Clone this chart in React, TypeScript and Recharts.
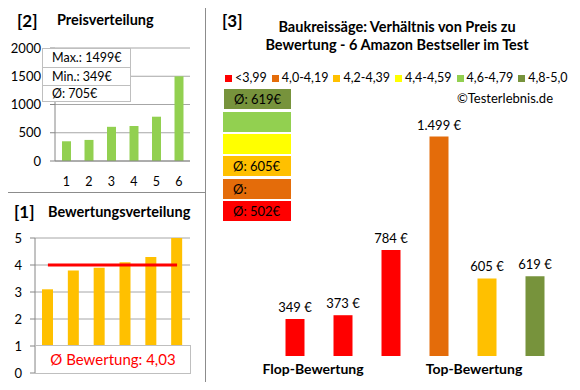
import React from 'react';
import { BarChart, Bar, XAxis, YAxis, CartesianGrid, Cell, LabelList, ComposedChart, Line } from 'recharts';

// prices sorted ascending (panel [2])
const priceRanks = ['1', '2', '3', '4', '5', '6'];
const pricesSorted = [349, 373, 605, 619, 784, 1499];
const priceTicks = [0, 500, 1000, 1500, 2000];
const priceGrid = [0, 100, 200, 300, 400, 500, 600, 700, 800, 900, 1000, 1100, 1200, 1300, 1400, 1500, 1600, 1700, 1800, 1900, 2000];

// ratings sorted ascending (panel [1])
const ratings = [3.1, 3.8, 3.9, 4.1, 4.3, 5.0];
const avgLine = [4, 4, 4, 4, 4, 4];
const ratingTicks = [0, 1, 2, 3, 4, 5];
const ratingGrid = [0, 0.2, 0.4, 0.6, 0.8, 1, 1.2, 1.4, 1.6, 1.8, 2, 2.2, 2.4, 2.6, 2.8, 3, 3.2, 3.4, 3.6, 3.8, 4, 4.2, 4.4, 4.6, 4.8, 5];

// panel [3]: price per product, ordered by rating
const pricesByRating = [349, 373, 784, 1499, 605, 619];
const barColors = ['#FF0000', '#FF0000', '#FF0000', '#E46C0A', '#FFC000', '#77933C'];

const legendLabels = ['<3,99', '4,0-4,19', '4,2-4,39', '4,4-4,59', '4,6-4,79', '4,8-5,0'];
const legendColors = ['#FF0000', '#E46C0A', '#FFC000', '#FFFF00', '#92D050', '#77933C'];

const avgBoxLabels = ['Ø: 619€', '', '', 'Ø: 605€', 'Ø:', 'Ø: 502€'];
const avgBoxColors = ['#77933C', '#92D050', '#FFFF00', '#FFC000', '#E46C0A', '#FF0000'];

const FONT = 'Lato, "Open Sans", sans-serif';
const GRID = '#A6A6A6';
const AXIS = '#868686';

const priceData = priceRanks.map((r, i) => ({ rank: r, price: pricesSorted[i] }));
const ratingData = ratings.map((r, i) => ({ idx: String(i + 1), rating: r, avg: avgLine[i] }));
const compareData = pricesByRating.map((p, i) => ({ idx: String(i + 1), price: p }));

// non-breaking space so the label doesn't wrap
const fmtEuro = (v: any) => Number(v).toLocaleString('de-DE') + '\u00A0€';

const abs = (x: number, y: number, extra: React.CSSProperties = {}): React.CSSProperties => ({
  position: 'absolute', left: x, top: y, whiteSpace: 'nowrap', ...extra,
});

export default function App() {
  return (
    <div style={{ position: 'relative', width: 580, height: 390, margin: -8, background: '#fff', fontFamily: FONT, color: '#000', overflow: 'hidden' }}>
      {/* frames */}
      <div style={abs(2, 2, { width: 203, height: 190, border: '1px solid #8C8C8C', borderRight: 'none', borderBottom: 'none' })} />
      <div style={abs(2, 192, { width: 203, height: 196, borderLeft: '1px solid #8C8C8C', borderTop: '1px solid #8C8C8C', borderBottom: '1px solid #8C8C8C' })} />
      <div style={abs(205, 2, { width: 372, height: 384, border: '1px solid #8C8C8C' })} />

      {/* panel [2] */}
      <div style={abs(17, 10, { fontSize: 17, fontWeight: 700 })}>[2]</div>
      <div style={abs(57, 11, { fontSize: 14.5, fontWeight: 700 })}>Preisverteilung</div>
      <div style={abs(0, 0)}>
        <BarChart width={205} height={193} data={priceData} margin={{ top: 48, right: 15, left: 0, bottom: 0 }}>
          <CartesianGrid vertical={false} stroke={GRID} horizontalValues={priceGrid} />
          <XAxis dataKey="rank" height={32} tickLine={false} tickSize={0} tickMargin={16} axisLine={{ stroke: AXIS }} tick={{ fill: '#000', fontSize: 12.5, fontFamily: FONT }} interval={0} />
          <YAxis width={55} domain={[0, 2000]} ticks={priceTicks} tickSize={5} tickMargin={9} axisLine={{ stroke: AXIS }} tickLine={{ stroke: AXIS }} tick={{ fill: '#000', fontSize: 13, fontFamily: FONT }} />
          <Bar dataKey="price" fill="#92D050" barSize={9} isAnimationActive={false} />
        </BarChart>
      </div>
      <div style={abs(42, 48, { width: 87, background: '#fff', border: '1px solid #BFBFBF', fontSize: 12.5 })}>
        <div style={{ height: 18, lineHeight: '18px', paddingLeft: 9, borderBottom: '1px solid #BFBFBF' }}>Max.: 1499€</div>
        <div style={{ height: 17, lineHeight: '17px', paddingLeft: 9, borderBottom: '1px solid #BFBFBF' }}>Min.: 349€</div>
        <div style={{ height: 15, lineHeight: '15px', paddingLeft: 9 }}>Ø: 705€</div>
      </div>

      {/* panel [1] */}
      <div style={abs(14, 201, { fontSize: 17, fontWeight: 700 })}>[1]</div>
      <div style={abs(48, 203, { fontSize: 14.5, fontWeight: 700 })}>Bewertungsverteilung</div>
      <div style={abs(0, 193)}>
        <ComposedChart width={205} height={195} data={ratingData} margin={{ top: 45, right: 15, left: 0, bottom: 15 }}>
          <CartesianGrid vertical={false} stroke={GRID} horizontalValues={ratingGrid} />
          <XAxis dataKey="idx" hide />
          <YAxis width={35} domain={[0, 5]} ticks={ratingTicks} tickSize={5} tickMargin={8} axisLine={{ stroke: AXIS }} tickLine={{ stroke: AXIS }} tick={{ fill: '#000', fontSize: 13, fontFamily: FONT }} />
          <Bar dataKey="rating" fill="#FFC000" barSize={11} isAnimationActive={false} />
          <Line dataKey="avg" stroke="#FF0000" strokeWidth={3} dot={false} isAnimationActive={false} />
        </ComposedChart>
      </div>
      <div style={abs(35, 345, { width: 154, height: 27, background: '#fff', border: '1px solid #BFBFBF', color: '#FF0000', fontSize: 15, textAlign: 'center', lineHeight: '27px' })}>
        Ø Bewertung: 4,03
      </div>

      {/* panel [3] */}
      <div style={abs(222, 10, { fontSize: 17, fontWeight: 700 })}>[3]</div>
      <div style={abs(205, 18, { width: 372, textAlign: 'center', fontSize: 14.5, fontWeight: 700, lineHeight: '18px', paddingLeft: 12, boxSizing: 'border-box', whiteSpace: 'normal' })}>
        Baukreissäge: Verhältnis von Preis zu<br />Bewertung - 6 Amazon Bestseller im Test
      </div>
      <div style={abs(225, 70, { display: 'flex', width: 'max-content', fontSize: 12.5, lineHeight: '16px' })}>
        {legendLabels.map((l, i) => (
          <div key={l} style={{ display: 'flex', alignItems: 'center', marginRight: 5, flexShrink: 0 }}>
            <span style={{ width: 7, height: 7, background: legendColors[i], marginRight: 3 }} />
            {l}
          </div>
        ))}
      </div>
      <div style={abs(453, 90, { width: 100, textAlign: 'right', fontSize: 13 })}>©Testerlebnis.de</div>
      {avgBoxLabels.map((l, i) => (
        <div key={i} style={abs(i === 0 ? 224 : 223, [89, 112, 134, 156, 179, 201][i], {
          width: i === 0 ? 67 : 68, height: 20, background: avgBoxColors[i], fontSize: 13, lineHeight: '20px', paddingLeft: 10, boxSizing: 'border-box',
        })}>{l}</div>
      ))}
      <div style={abs(205, 0)}>
        <BarChart width={372} height={386} data={compareData} margin={{ top: 57, right: 18.5, left: 65.5, bottom: 30 }}>
          <XAxis dataKey="idx" hide />
          <YAxis hide domain={[116, 2000]} allowDataOverflow />
          <Bar dataKey="price" barSize={19} isAnimationActive={false}>
            {compareData.map((d, i) => <Cell key={d.idx} fill={barColors[i]} />)}
            <LabelList dataKey="price" position="top" offset={7} formatter={fmtEuro} style={{ fill: '#000', fontSize: 13, fontFamily: FONT }} />
          </Bar>
        </BarChart>
      </div>
      <div style={abs(253, 360, { width: 120, textAlign: 'center', fontSize: 14, fontWeight: 700 })}>Flop-Bewertung</div>
      <div style={abs(414, 360, { width: 120, textAlign: 'center', fontSize: 14, fontWeight: 700 })}>Top-Bewertung</div>
    </div>
  );
}
